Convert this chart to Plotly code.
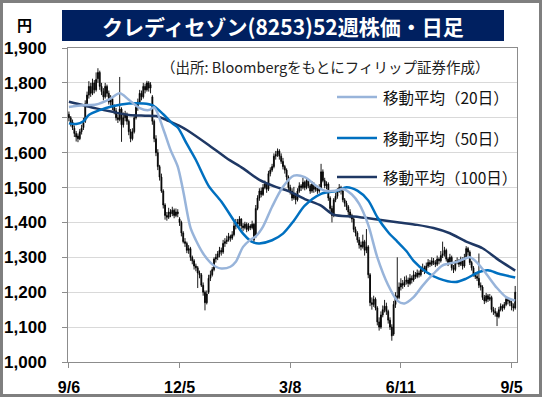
import plotly.graph_objects as go

# ---------------- data ----------------
tick_idx = [0, 61, 122, 183, 244]
tick_labels = ["9/6", "12/5", "3/8", "6/11", "9/5"]

opens = [
    1710,1700,1688,1670,1655,1648,1640,1660,1672,1690,
    1740,1765,1790,1770,1800,1780,1812,1830,1790,1775,
    1760,1790,1770,1745,1755,1730,1720,1700,1695,1725,
    1680,1700,1710,1690,1660,1640,1660,1700,1730,1745,
    1770,1760,1790,1780,1800,1785,1760,1690,1640,1600,
    1560,1530,1490,1450,1420,1415,1430,1425,1435,1420,
    1430,1410,1400,1370,1345,1340,1320,1325,1300,1290,
    1275,1270,1255,1250,1220,1200,1170,1200,1240,1250,
    1265,1295,1300,1310,1320,1315,1340,1345,1350,1360,
    1355,1365,1390,1400,1395,1410,1390,1385,1395,1380,
    1390,1385,1395,1360,1440,1470,1490,1480,1500,1510,
    1495,1540,1550,1560,1590,1595,1605,1590,1575,1560,
    1550,1530,1500,1490,1470,1480,1465,1490,1505,1500,
    1515,1500,1520,1505,1490,1510,1495,1500,1490,1500,
    1545,1520,1505,1510,1470,1440,1420,1465,1475,1490,
    1500,1490,1465,1455,1445,1430,1420,1410,1380,1370,
    1350,1335,1330,1345,1320,1330,1250,1170,1165,1180,
    1155,1115,1100,1135,1150,1160,1145,1120,1100,1080,
    1165,1190,1185,1215,1225,1220,1230,1235,1225,1240,
    1235,1250,1245,1255,1250,1265,1270,1260,1275,1285,
    1280,1290,1285,1280,1295,1290,1305,1310,1320,1295,
    1285,1300,1270,1265,1285,1290,1280,1295,1275,1300,
    1325,1315,1285,1270,1250,1245,1240,1220,1215,1185,
    1175,1190,1180,1185,1150,1145,1140,1130,1150,1160,
    1155,1165,1180,1175,1170,1160,1155,
]
highs = [
    1718,1705,1695,1678,1662,1655,1668,1680,1700,1750,
    1775,1805,1800,1812,1808,1830,1842,1835,1800,1785,
    1800,1795,1778,1765,1760,1738,1728,1710,1817,1730,
    1715,1720,1715,1695,1668,1670,1710,1740,1755,1780,
    1778,1800,1798,1806,1805,1802,1765,1695,1650,1610,
    1565,1540,1495,1455,1430,1442,1438,1445,1440,1440,
    1438,1415,1405,1375,1355,1345,1335,1330,1305,1295,
    1282,1275,1262,1255,1228,1205,1205,1250,1262,1272,
    1300,1310,1318,1330,1328,1350,1355,1362,1370,1365,
    1375,1400,1410,1410,1418,1412,1398,1402,1400,1398,
    1395,1405,1398,1450,1478,1498,1500,1510,1520,1515,
    1548,1558,1568,1598,1605,1612,1610,1598,1585,1565,
    1555,1535,1508,1498,1502,1485,1498,1515,1510,1528,
    1520,1530,1525,1510,1518,1515,1508,1505,1510,1568,
    1552,1528,1518,1515,1475,1448,1470,1485,1498,1510,
    1505,1495,1470,1462,1450,1438,1425,1415,1388,1375,
    1358,1345,1365,1350,1381,1335,1255,1185,1190,1185,
    1160,1128,1145,1162,1178,1170,1150,1128,1108,1175,
    1200,1300,1228,1240,1235,1245,1248,1242,1252,1248,
    1262,1258,1265,1262,1275,1282,1276,1285,1295,1292,
    1300,1298,1292,1305,1300,1318,1345,1330,1325,1300,
    1310,1305,1278,1292,1300,1295,1302,1300,1310,1332,
    1330,1320,1290,1275,1258,1252,1311,1228,1220,1192,
    1198,1195,1195,1190,1158,1155,1145,1158,1168,1165,
    1172,1188,1186,1180,1175,1168,1218,
]
lows = [
    1690,1675,1665,1645,1632,1630,1636,1652,1665,1685,
    1730,1755,1760,1765,1770,1775,1800,1780,1765,1750,
    1755,1760,1738,1735,1722,1710,1692,1685,1690,1631,
    1672,1690,1680,1650,1630,1635,1655,1695,1720,1740,
    1750,1755,1770,1775,1775,1770,1680,1630,1590,1550,
    1520,1485,1440,1408,1405,1410,1415,1418,1412,1415,
    1415,1390,1360,1340,1330,1312,1310,1290,1280,1265,
    1260,1212,1240,1215,1190,1148,1165,1195,1232,1245,
    1260,1285,1292,1300,1305,1310,1330,1338,1345,1345,
    1350,1360,1380,1385,1388,1380,1375,1380,1372,1375,
    1378,1380,1340,1355,1435,1462,1472,1476,1495,1485,
    1490,1532,1545,1555,1580,1588,1580,1568,1552,1540,
    1520,1492,1480,1462,1465,1452,1460,1485,1490,1495,
    1492,1495,1498,1482,1485,1485,1488,1482,1485,1495,
    1515,1498,1495,1462,1432,1400,1415,1458,1468,1485,
    1480,1458,1445,1435,1420,1412,1400,1372,1360,1342,
    1325,1320,1325,1305,1312,1240,1160,1150,1158,1148,
    1105,1090,1095,1128,1142,1135,1110,1092,1061,1075,
    1155,1175,1180,1205,1210,1215,1222,1215,1220,1225,
    1230,1238,1240,1242,1245,1258,1252,1255,1270,1272,
    1275,1278,1272,1275,1280,1285,1298,1302,1288,1275,
    1280,1262,1255,1260,1280,1272,1275,1265,1270,1295,
    1305,1278,1262,1245,1238,1232,1212,1205,1178,1166,
    1170,1172,1175,1142,1135,1130,1103,1125,1145,1145,
    1150,1160,1165,1160,1148,1145,1150,
]
closes = [
    1700,1685,1672,1655,1645,1640,1660,1670,1685,1740,
    1765,1790,1770,1800,1780,1810,1830,1790,1775,1760,
    1790,1770,1745,1755,1730,1720,1700,1695,1725,1680,
    1700,1710,1690,1660,1640,1660,1700,1730,1745,1770,
    1760,1790,1780,1800,1785,1795,1690,1640,1600,1560,
    1530,1490,1450,1420,1415,1430,1425,1435,1420,1430,
    1425,1400,1370,1345,1340,1320,1325,1300,1290,1275,
    1270,1255,1250,1220,1200,1170,1195,1240,1250,1265,
    1295,1300,1310,1320,1315,1340,1345,1350,1360,1355,
    1365,1390,1400,1395,1410,1390,1385,1395,1380,1390,
    1385,1395,1350,1440,1470,1490,1480,1500,1510,1495,
    1540,1550,1560,1590,1595,1605,1590,1575,1560,1550,
    1530,1500,1490,1470,1480,1465,1490,1505,1500,1515,
    1500,1520,1505,1490,1510,1495,1500,1490,1500,1545,
    1520,1505,1510,1470,1440,1420,1465,1475,1490,1500,
    1490,1465,1455,1445,1430,1420,1410,1380,1370,1350,
    1335,1330,1345,1320,1330,1250,1170,1165,1180,1155,
    1115,1100,1135,1150,1160,1145,1120,1100,1075,1165,
    1190,1185,1215,1225,1220,1230,1235,1225,1240,1235,
    1250,1245,1255,1250,1265,1270,1260,1275,1285,1280,
    1290,1285,1280,1295,1290,1305,1310,1320,1295,1285,
    1300,1270,1265,1285,1290,1280,1295,1275,1300,1325,
    1315,1285,1270,1250,1245,1240,1220,1215,1185,1175,
    1190,1180,1185,1150,1145,1140,1130,1150,1160,1155,
    1165,1180,1175,1170,1160,1155,1200,
]

ma20_x = [0, 8, 15, 22, 28, 33, 39, 44, 47, 52, 56, 60, 63, 67, 70, 74, 78, 81, 84, 89,
          92, 96, 100, 103, 107, 112, 118, 124, 130, 136, 141, 147, 151, 156, 160, 165,
          170, 176, 181, 185, 190, 195, 201, 206, 214, 221, 225, 230, 236, 241, 246]
ma20_y = [1731, 1736, 1738, 1752, 1770, 1752, 1728, 1722, 1730, 1668, 1608, 1560, 1490, 1385,
          1349, 1311, 1285, 1273, 1268, 1273, 1287, 1330, 1350, 1360, 1388, 1445, 1502, 1534,
          1530, 1506, 1491, 1491, 1496, 1480, 1453, 1393, 1300, 1220, 1176, 1168, 1186, 1219,
          1253, 1277, 1287, 1300, 1285, 1253, 1212, 1186, 1176]

ma50_x = [0, 4, 8, 11, 17, 24, 33, 41, 46, 52, 57, 60, 65, 70, 77, 84, 92, 96, 101, 105,
          112, 118, 124, 130, 139, 148, 153, 159, 165, 170, 176, 181, 186, 190, 197, 204,
          213, 219, 226, 231, 237, 246]
ma50_y = [1684, 1682, 1690, 1708, 1722, 1733, 1741, 1741, 1736, 1710, 1684, 1672, 1625, 1579,
          1505, 1460, 1397, 1368, 1344, 1340, 1349, 1368, 1405, 1448, 1482, 1491, 1501, 1491,
          1463, 1415, 1372, 1345, 1318, 1290, 1258, 1239, 1229, 1239, 1258, 1263, 1253, 1242]

ma100_x = [0, 15, 24, 33, 42, 48, 52, 57, 62, 65, 77, 87, 96, 105, 114, 121, 130, 139, 146,
           157, 168, 182, 192, 201, 210, 219, 228, 237, 246]
ma100_y = [1746, 1727, 1717, 1708, 1706, 1705, 1698, 1686, 1674, 1665, 1622, 1584, 1555, 1522,
           1502, 1490, 1467, 1448, 1422, 1417, 1410, 1400, 1393, 1384, 1369, 1345, 1326, 1292,
           1262]

ma_names = ["移動平均（20日）", "移動平均（50日）", "移動平均（100日）"]
ma_colors = ["#98B4DA", "#0070C0", "#1F3864"]

title_text = "クレディセゾン(8253)52週株価・日足"
source_text = "（出所: Bloombergをもとにフィリップ証券作成）"
unit_text = "円"

# ---------------- layout geometry ----------------
W, H = 542, 397
ML, MR, MT, MB = 68, 25, 48, 35
PW = W - ML - MR
PH = H - MT - MB


def px(x):
    return (x - ML) / PW


def py(y):
    return (H - MB - y) / PH


JP = "Noto Sans CJK JP"
NUM = "Liberation Sans"

fig = go.Figure()
x_idx = list(range(len(closes)))
fig.add_trace(go.Candlestick(
    x=x_idx, open=opens, high=highs, low=lows, close=closes,
    increasing=dict(line=dict(color="black", width=0.9), fillcolor="black"),
    decreasing=dict(line=dict(color="black", width=0.9), fillcolor="black"),
    whiskerwidth=0, showlegend=False, hoverinfo="skip",
))
for xs, ys, name, col in [(ma100_x, ma100_y, ma_names[2], ma_colors[2]),
                          (ma50_x, ma50_y, ma_names[1], ma_colors[1]),
                          (ma20_x, ma20_y, ma_names[0], ma_colors[0])]:
    fig.add_trace(go.Scatter(x=xs, y=ys, mode="lines", name=name,
                             line=dict(color=col, width=2.5, shape="spline", smoothing=0.8),
                             showlegend=False, hoverinfo="skip"))

shapes = []
annotations = []
# outer frame
shapes.append(dict(type="rect", xref="paper", yref="paper",
                   x0=px(1.5), x1=px(W - 1.5), y0=py(H - 1.5), y1=py(1.5),
                   line=dict(color="#7F7F7F", width=3), layer="above"))
# title band
shapes.append(dict(type="rect", xref="paper", yref="paper",
                   x0=px(62), x1=px(504), y0=py(41), y1=py(10),
                   fillcolor="#002060", line=dict(width=0), layer="above"))
annotations.append(dict(text=f"<b>{title_text}</b>", xref="paper", yref="paper",
                        x=px(283), y=py(26), xanchor="center", yanchor="middle",
                        showarrow=False, font=dict(family=JP, size=21, color="white")))
annotations.append(dict(text=f"<b>{unit_text}</b>", xref="paper", yref="paper",
                        x=px(24), y=py(24), xanchor="center", yanchor="middle",
                        showarrow=False, font=dict(family=JP, size=15, color="black")))
annotations.append(dict(text=source_text, xref="paper", yref="paper",
                        x=px(491), y=py(66), xanchor="right", yanchor="middle",
                        showarrow=False, font=dict(family=JP, size=14.5, color="#222222")))
# legend
leg_y = [97, 138, 177]
for name, col, yy in zip(ma_names, ma_colors, leg_y):
    shapes.append(dict(type="line", xref="paper", yref="paper",
                       x0=px(337), x1=px(377), y0=py(yy), y1=py(yy),
                       line=dict(color=col, width=2.5), layer="above"))
    annotations.append(dict(text=name, xref="paper", yref="paper",
                            x=px(381), y=py(yy), xanchor="left", yanchor="middle",
                            showarrow=False, font=dict(family=JP, size=15.5, color="#111111")))

fig.update_layout(
    width=W, height=H, autosize=False,
    margin=dict(l=ML, r=MR, t=MT, b=MB, pad=0, autoexpand=False),
    paper_bgcolor="white", plot_bgcolor="white",
    shapes=shapes, annotations=annotations,
    showlegend=False,
    xaxis=dict(range=[-0.5, 247], tickmode="array", tickvals=tick_idx, ticktext=tick_labels,
               automargin=False,
               showgrid=False, zeroline=False, rangeslider=dict(visible=False),
               showline=True, mirror=True, linecolor="#8C8C8C", linewidth=1,
               ticks="outside", ticklen=5, tickcolor="#8C8C8C", ticklabelstandoff=6,
               tickfont=dict(family=NUM, size=16, color="black", weight="bold")),
    yaxis=dict(range=[1000, 1900], dtick=100, tick0=1000, tickformat=",",
               automargin=False,
               showgrid=True, gridcolor="#D9D9D9", gridwidth=1, zeroline=False,
               showline=True, mirror=True, linecolor="#8C8C8C", linewidth=1,
               ticks="outside", ticklen=5, tickcolor="#8C8C8C", ticklabelstandoff=12,
               tickfont=dict(family=NUM, size=17, color="black", weight="bold")),
)

fig.write_html("out.html", config={"displayModeBar": False},
               post_script="document.body.style.margin='0';")
